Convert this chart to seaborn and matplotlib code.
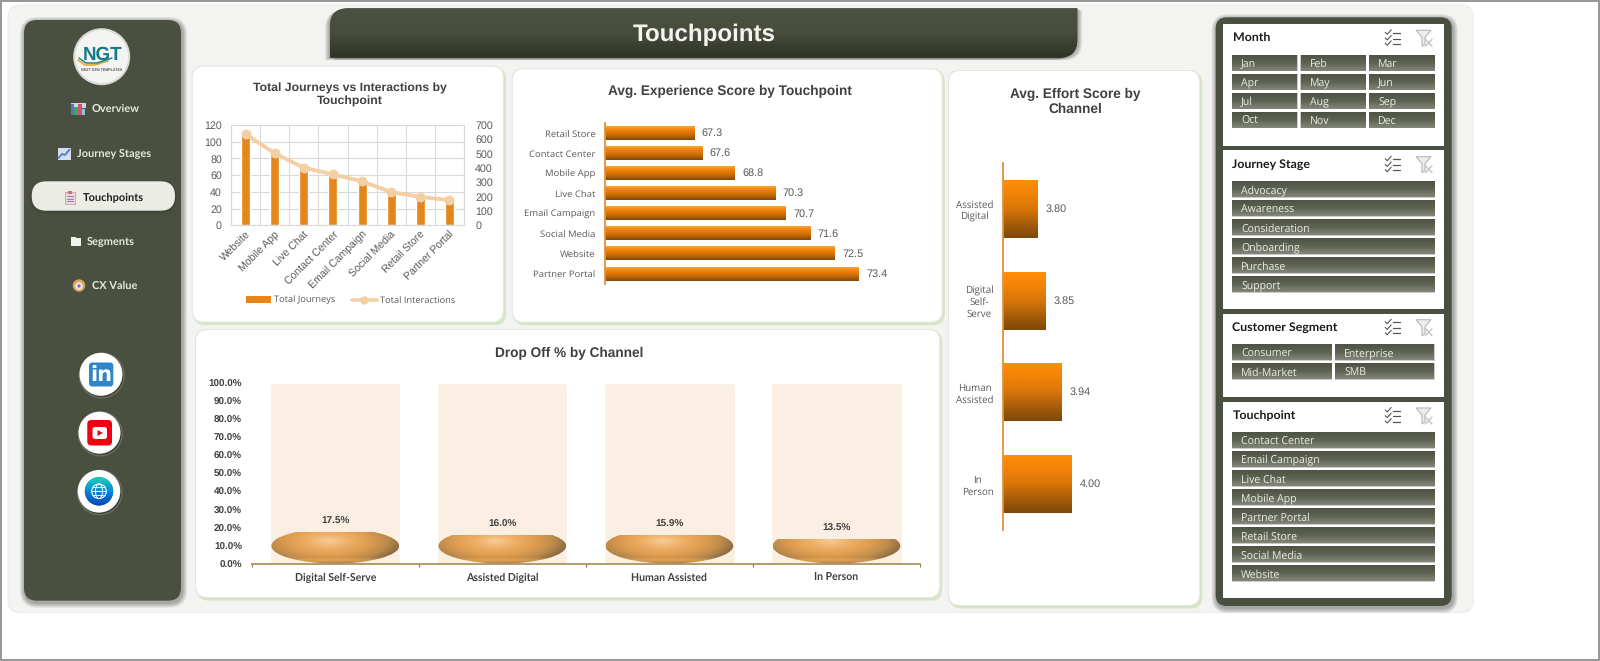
import numpy as np
import matplotlib
matplotlib.use("Agg")
import matplotlib.pyplot as plt
import seaborn as sns
from matplotlib.patches import FancyBboxPatch, Rectangle, Circle, Ellipse, Polygon, PathPatch, Patch
from matplotlib.path import Path
from matplotlib.lines import Line2D
from matplotlib.colors import LinearSegmentedColormap

# ---------- data ----------
touchpoints = ["Website", "Mobile App", "Live Chat", "Contact Center", "Email Campaign",
               "Social Media", "Retail Store", "Partner Portal"]
total_journeys = [109, 86, 69, 61, 52, 40, 33, 30]
total_interactions = [637, 502, 402, 356, 307, 233, 198, 177]

exp_touchpoints = ["Retail Store", "Contact Center", "Mobile App", "Live Chat", "Email Campaign",
                   "Social Media", "Website", "Partner Portal"]
exp_scores = [67.3, 67.6, 68.8, 70.3, 70.7, 71.6, 72.5, 73.4]

drop_channels = ["Digital Self-Serve", "Assisted Digital", "Human Assisted", "In Person"]
drop_pct = [17.5, 16.0, 15.9, 13.5]
drop_track = [100, 100, 100, 100]
pct_ticks = [0, 10, 20, 30, 40, 50, 60, 70, 80, 90, 100]

effort_channels = ["Assisted\nDigital", "Digital\nSelf-\nServe", "Human\nAssisted", "In\nPerson"]
effort_scores = [3.80, 3.85, 3.94, 4.00]

nav_items = ["Overview", "Journey Stages", "Touchpoints", "Segments", "CX Value"]
months = ["Jan", "Feb", "Mar", "Apr", "May", "Jun", "Jul", "Aug", "Sep", "Oct", "Nov", "Dec"]
stages = ["Advocacy", "Awareness", "Consideration", "Onboarding", "Purchase", "Support"]
segments = ["Consumer", "Enterprise", "Mid-Market", "SMB"]
slicer_touchpoints = ["Contact Center", "Email Campaign", "Live Chat", "Mobile App",
                      "Partner Portal", "Retail Store", "Social Media", "Website"]

# ---------- setup ----------
W, H = 1600, 661
sns.set_theme(style="white")
plt.rcParams["font.family"] = ["Liberation Sans", "DejaVu Sans"]
plt.rcParams["text.hinting"] = "none"
UI = "Open Sans"
UIB = "Lato"
SANS = "Liberation Sans"
OLIVE = "#4A5040"
GRAY = "#595959"
TITLE = "#404040"

fig = plt.figure(figsize=(W / 100, H / 100), dpi=100, facecolor="white")
bg = fig.add_axes([0, 0, 1, 1], zorder=0)
bg.set_xlim(0, W)
bg.set_ylim(H, 0)
bg.axis("off")
bg.set_autoscale_on(False)


def rbox(x0, y0, x1, y1, r, fc, ec="none", lw=0, z=1, alpha=None, ax=bg):
    p = FancyBboxPatch((x0 + r, y0 + r), x1 - x0 - 2 * r, y1 - y0 - 2 * r,
                       boxstyle=f"round,pad={r},rounding_size={r}", fc=fc, ec=ec, lw=lw,
                       zorder=z, alpha=alpha)
    ax.add_patch(p)
    return p


def shadow(x0, y0, x1, y1, r, dx=2, dy=3, color="#000000", spread=5, strength=0.05, z=1):
    for i in range(spread, 0, -1):
        rbox(x0 + dx - i, y0 + dy - i, x1 + dx + i, y1 + dy + i, r + i, color, z=z, alpha=strength)


def grad(ax, x0, y_bottom, x1, y_top, colors, z=2, clip=None):
    cmap = LinearSegmentedColormap.from_list("g", colors)
    arr = np.linspace(0, 1, 64)[:, None]
    im = ax.imshow(arr, cmap=cmap, vmin=0, vmax=1, extent=[x0, x1, y_bottom, y_top],
                   origin="upper", aspect="auto", zorder=z, interpolation="bilinear")
    if clip is not None:
        im.set_clip_path(clip)
    return im


def px_axes(x0, y0, x1, y1, z=2):
    a = fig.add_axes([x0 / W, 1 - y1 / H, (x1 - x0) / W, (y1 - y0) / H], zorder=z)
    a.patch.set_visible(False)
    return a


def card(x0, y0, x1, y1, r=11):
    rbox(x0 + 1, y0 + 1, x1 + 3, y1 + 3.5, r, "#D5E6C4", z=1.2)
    rbox(x0 - 1, y0 - 1, x1 + 1, y1 + 1, r, "#E4E6E0", z=1.3)
    rbox(x0, y0, x1, y1, r, "white", z=1.4)


# ---------- page ----------
rbox(8, 5, 1473, 612.5, 12, "#F3F3F1", ec="#ECECEA", lw=0.8, z=0.5)
bg.add_patch(Rectangle((0.7, 0.7), W - 1.4, H - 1.4, fc="none", ec="#8F8F8F", lw=1.3, zorder=0.6))

# ---------- title banner ----------
r = 18
bx0, by0, bx1, by1 = 330, 8.3, 1077.3, 57.7
verts = [(bx0, by1), (bx0, by0 + r), (bx0, by0), (bx0 + r, by0), (bx1, by0), (bx1, by1 - r),
         (bx1, by1), (bx1 - r, by1), (bx0, by1), (bx0, by1)]
codes = [Path.MOVETO, Path.LINETO, Path.CURVE3, Path.CURVE3, Path.LINETO, Path.LINETO,
         Path.CURVE3, Path.CURVE3, Path.LINETO, Path.CLOSEPOLY]
banner_path = Path(verts, codes)
for i in range(1, 6):
    bg.add_patch(PathPatch(Path(np.array(verts) + np.array([i * 1.0, 0.5 * i]), codes),
                           fc="#000000", ec="none", alpha=0.07, zorder=1))
    bg.add_patch(PathPatch(Path(np.array(verts) + np.array([-i * 1.0, 0.5 * i]), codes),
                           fc="#000000", ec="none", alpha=0.07, zorder=1))
bp = PathPatch(banner_path, fc=OLIVE, ec="none", zorder=1.5)
bg.add_patch(bp)
grad(bg, bx0, by1, bx1, by0, ["#4C5241", "#474C3C", "#2E3227"], z=1.6, clip=bp)
bg.text(704, 35, "Touchpoints", color="#F4F4F0", fontsize=17.4, fontweight="bold",
        family=SANS, ha="center", va="center", zorder=3)

# ---------- sidebar ----------
shadow(24, 20, 181, 600.7, 13, dx=1, dy=2, spread=5, strength=0.07)
rbox(24, 20, 181, 600.7, 13, OLIVE, z=1.5)
# logo
bg.add_patch(Circle((101.7, 56.7), 28.5, fc="#D9D9D6", ec="none", zorder=2))
logo = Circle((101.7, 56.7), 26.5, fc="#F4F4F2", ec="none", zorder=2.1)
bg.add_patch(logo)
bg.text(103, 55, "NGT", color="#137A8C", fontsize=13.5, fontweight="bold", family=SANS,
        ha="center", va="center", zorder=3)
bg.plot([78, 85, 95, 108], [60, 65, 65, 61], color="#E3A93A", lw=1.2, zorder=2.9)
bg.plot([79, 86, 97, 112], [58, 63, 63, 58], color="#137A8C", lw=1.0, zorder=2.9)
bg.text(102, 70, "NEXT GEN TEMPLATES", color="#555555", fontsize=2.6, fontweight="bold",
        family=SANS, ha="center", va="center", zorder=3)

# active pill
shadow(31.7, 181.3, 175, 210.7, 14.6, dx=0, dy=1, spread=2, strength=0.05, z=2)
rbox(31.7, 181.3, 175, 210.7, 14.6, "#ECECE6", z=2.1)

nav_y = [109, 154, 197.5, 241.5, 285.5]
nav_x = [91.7, 77, 83, 87, 92]
nav_ic = [78, 64, 70, 76, 79]
for label, y, x in zip(nav_items, nav_y, nav_x):
    active = label == "Touchpoints"
    bg.text(x, y, label, color="#1F1F1F" if active else "#E6E8DF", fontsize=7.9, fontweight="bold",
            family=UIB, ha="left", va="center", zorder=3)
# nav icons
ix = nav_ic[0]; iy = nav_y[0]
for dx, h, c in [(-5.5, 11, "#4F79B8"), (-1.7, 8, "#3FA66B"), (2, 11, "#D1526B"), (5.5, 6, "#8FC2E0")]:
    bg.add_patch(Rectangle((ix + dx - 1.9, iy + 6 - h), 3.7, h, fc=c, ec="none", zorder=3))
bg.add_patch(Rectangle((ix - 7.5, iy - 6), 15, 5, fc="#CBD6E6", ec="none", zorder=2.9))
ix = nav_ic[1]; iy = nav_y[1]
bg.add_patch(Rectangle((ix - 6.5, iy - 6), 13, 12, fc="#D7DCEE", ec="none", zorder=3))
bg.plot([ix - 5.5, ix - 2, ix + 1, ix + 5.5], [iy + 4, iy, iy + 1, iy - 4.5], color="#4D7FC9", lw=1.3, zorder=3.1)
ix = nav_ic[2]; iy = nav_y[2]
bg.add_patch(Rectangle((ix - 4.7, iy - 5.5), 9.4, 12, fc="#EAD7DA", ec="#B99BA0", lw=0.5, zorder=3))
bg.add_patch(Rectangle((ix - 2.2, iy - 7), 4.4, 3, fc="#C9737E", ec="none", zorder=3.1))
for d in (-1.5, 1, 3.5):
    bg.plot([ix - 3, ix + 3], [iy + d, iy + d], color="#8A7FB0", lw=0.7, zorder=3.1)
ix = nav_ic[3]; iy = nav_y[3]
bg.add_patch(Rectangle((ix - 5, iy - 3.5), 10, 7.5, fc="#F2F2EC", ec="none", zorder=3))
bg.add_patch(Rectangle((ix - 5, iy - 5), 5, 2, fc="#F2F2EC", ec="none", zorder=3))
ix = nav_ic[4]; iy = nav_y[4]
bg.add_patch(Circle((ix, iy), 6.2, fc="#D9A65A", ec="none", zorder=3))
bg.add_patch(Circle((ix, iy + 0.5), 3.9, fc="#E8E2EE", ec="none", zorder=3.1))
bg.add_patch(Circle((ix, iy + 0.5), 1.6, fc="#8C5FA8", ec="none", zorder=3.2))

# social buttons
for (cx, cy, rad) in [(101, 374.3, 21.5), (99.5, 432.7, 21), (99, 491.3, 21.3)]:
    bg.add_patch(Circle((cx + 0.8, cy + 1.2), rad + 0.8, fc="#000000", alpha=0.2, zorder=2))
    bg.add_patch(Circle((cx, cy), rad, fc="white", ec="none", zorder=2.1))
rbox(89, 362.5, 113.3, 386.5, 3, "#2F86C6", z=3)
bg.text(101.3, 375.3, "in", color="white", fontsize=15, fontweight="bold", family="DejaVu Sans",
        ha="center", va="center", zorder=3.1)
rbox(87.3, 420, 112, 445.5, 4, "#F00010", z=3)
rbox(92.5, 427, 107, 439, 2.5, "white", z=3.1)
bg.add_patch(Polygon([(97.5, 430), (97.5, 436), (103, 433)], fc="#D8101C", ec="none", zorder=3.2))
globe = Circle((99, 491.3), 14.2, fc="#1467C8", ec="none", zorder=3)
bg.add_patch(globe)
grad(bg, 84, 506, 114, 477, ["#13D3B8", "#0C86D0", "#0742B8"], z=3.05, clip=globe)
bg.add_patch(Circle((99, 491.3), 7.3, fc="none", ec="white", lw=0.8, zorder=3.2))
bg.add_patch(Ellipse((99, 491.3), 7, 14.6, fc="none", ec="white", lw=0.7, zorder=3.2))
bg.plot([91.7, 106.3], [491.3, 491.3], color="white", lw=0.7, zorder=3.2)
bg.plot([93, 105], [487.4, 487.4], color="white", lw=0.6, zorder=3.2)
bg.plot([93, 105], [495.2, 495.2], color="white", lw=0.6, zorder=3.2)

# ---------- slicer panel ----------
shadow(1215.7, 17.3, 1451.7, 606, 11, dx=1, dy=2, spread=5, strength=0.07)
rbox(1215.7, 17.3, 1451.7, 606, 11, OLIVE, z=1.5)
BTN = ["#4E5344", "#5E6354", "#83877A"]


def slicer_icons(y):
    x = 1392.7
    for k, d in enumerate((-5.5, 0.2, 5.5)):
        yy = y + d
        bg.plot([x - 7.5, x - 5.5, x - 1.5], [yy - 0.5, yy + 1.5, yy - 3], color="#555555", lw=0.8, zorder=3)
        bg.plot([x, x + 7.5], [yy, yy], color="#555555", lw=0.9, zorder=3)
    xf = 1424
    bg.add_patch(Polygon([(xf - 8, y - 8), (xf + 7, y - 8), (xf + 1, y - 1), (xf + 1, y + 6),
                          (xf - 2, y + 8), (xf - 2, y - 1)], fc="#EDEDED", ec="#BDBDBD", lw=0.9, zorder=3))
    bg.plot([xf + 1.5, xf + 8], [y + 1, y + 8], color="#C4C4C4", lw=1, zorder=3.1)
    bg.plot([xf + 8, xf + 1.5], [y + 1, y + 8], color="#C4C4C4", lw=1, zorder=3.1)


def button(x0, y0, x1, label):
    y1 = y0 + 15.7
    bg.add_patch(Rectangle((x0 - 0.3, y0 - 0.3), x1 - x0 + 0.6, 16.6, fc="#C9CBC4", ec="none", zorder=2.4))
    grad(bg, x0, y1, x1, y0, BTN, z=2.5)
    bg.text(x0 + 9, y0 + 9.4, label, color="#ECEEE6", fontsize=7.6, family=UI, ha="left",
            va="center", zorder=3)


def pane(y0, y1, title, title_y):
    bg.add_patch(Rectangle((1223.3, y0), 221, y1 - y0, fc="white", ec="none", zorder=2))
    bg.text(1232.5, title_y, title, color="#1A1A1A", fontsize=8.9, fontweight="bold", family=UIB,
            ha="left", va="center", zorder=3)
    slicer_icons(title_y)


pane(24.3, 145.7, "Month", 38.3)
pane(150.3, 309.3, "Journey Stage", 164.7)
pane(314, 397.3, "Customer Segment", 327.7)
pane(402.3, 598.3, "Touchpoint", 416)

cols3 = [(1232.3, 1297.3), (1300.7, 1365.3), (1369, 1434.3)]
for i, m in enumerate(months):
    c = cols3[i % 3]
    button(c[0], 55 + 19 * (i // 3), c[1], m)
for i, s in enumerate(stages):
    button(1232.3, 181.7 + 19 * i, 1435, s)
cols2 = [(1232.3, 1331.7), (1335.3, 1434.3)]
for i, s in enumerate(segments):
    c = cols2[i % 2]
    button(c[0], 344.3 + 19 * (i // 2), c[1], s)
for i, s in enumerate(slicer_touchpoints):
    button(1232.3, 432.3 + 19 * i, 1435, s)

# ---------- cards ----------
card(192.7, 66.7, 503, 321.5)
card(512.7, 69.3, 941.7, 321.7)
card(196, 330, 939.3, 597)
card(949, 71, 1199.3, 605)

title_kw = dict(color=TITLE, fontweight="bold", family=SANS, ha="center", va="center", zorder=3)
bg.text(350, 95, "Total Journeys vs Interactions by\nTouchpoint", fontsize=8.8, linespacing=1.3, **title_kw)
bg.text(730, 91.5, "Avg. Experience Score by Touchpoint", fontsize=9.8, **title_kw)
bg.text(569, 353.5, "Drop Off % by Channel", fontsize=9.8, **title_kw)
bg.text(1075.5, 101.5, "Avg. Effort Score by\nChannel", fontsize=9.8, linespacing=1.2, **title_kw)

# ---------- chart 1: journeys vs interactions ----------
ax1 = px_axes(231, 125, 464, 225.4)
sns.barplot(x=touchpoints, y=total_journeys, color="#E6851A", saturation=1, width=0.31, ax=ax1, zorder=2)
ax1.set_xlim(-0.5, len(touchpoints) - 0.5)
ax1.set_ylim(0, 120)
ax1.set_yticks(range(0, 121, 20))
ax1.set_xticks(np.arange(len(touchpoints)))
ax1.set_xticklabels(touchpoints, rotation=45, ha="right", rotation_mode="anchor", family=SANS,
                    fontsize=7.6, color=GRAY)
ax1.set_xticks(np.arange(-0.5, len(touchpoints)), minor=True)
ax1.grid(True, axis="y", which="major", color="#D9D9D9", lw=0.8, zorder=0)
ax1.grid(True, axis="x", which="minor", color="#D9D9D9", lw=0.8, zorder=0)
ax1.grid(False, axis="x", which="major")
ax1.set_axisbelow(True)
ax1.tick_params(axis="x", which="both", length=0, pad=3)
ax1.tick_params(axis="y", length=0, pad=6.5, labelsize=7.7, labelcolor=GRAY)
for s in ax1.spines.values():
    s.set_color("#D9D9D9")
    s.set_linewidth(0.8)
ax1.set_xlabel("")
ax1.set_ylabel("")

ax1b = ax1.twinx()
ax1b.patch.set_visible(False)
sns.lineplot(x=np.arange(len(touchpoints)), y=total_interactions, color="#F4CFA5", lw=2.8, marker="o",
             markersize=6.4, markeredgecolor="#F4CFA5", ax=ax1b, sort=False, errorbar=None, zorder=3)
ax1b.set_ylim(0, 700)
ax1b.set_yticks(range(0, 701, 100))
ax1b.tick_params(axis="y", length=0, pad=8, labelsize=7.7, labelcolor=GRAY)
ax1b.set_ylabel("")
ax1b.grid(False)
for s in ax1b.spines.values():
    s.set_visible(False)
handles = [Patch(fc="#E6851A", ec="none"),
           Line2D([], [], color="#F4CFA5", lw=2.6, marker="o", markersize=5)]
leg = ax1b.legend(handles, ["Total Journeys", "Total Interactions"], loc="center",
                  bbox_to_anchor=(351 / W, 1 - 300.5 / H), bbox_transform=fig.transFigure, ncol=2,
                  frameon=False, handlelength=2.6, columnspacing=1.8, handletextpad=0.4,
                  prop={"family": UI, "size": 6.7})
for t in leg.get_texts():
    t.set_color(GRAY)

# ---------- chart 2: experience score ----------
ORANGE_H = ["#F9A540", "#F08208", "#DD7606", "#B4620A", "#824808"]
ax2 = px_axes(605, 123, 902, 284)
sns.barplot(x=exp_scores, y=exp_touchpoints, orient="h", color="#E07A08", saturation=1, width=0.66, ax=ax2)
ax2.set_xlim(64, 75)
ax2.set_ylim(len(exp_scores) - 0.5, -0.5)
ax2.set_autoscale_on(False)
bars2 = ax2.containers[0]
for p in bars2:
    b = p.get_bbox()
    grad(ax2, ax2.get_xlim()[0], b.y1, b.x1, b.y0, ORANGE_H, z=2.5)
ax2.bar_label(bars2, fmt="%.1f", padding=5.5, fontsize=7.8, color=GRAY, family=SANS)
ax2.set_xticks([])
ax2.tick_params(axis="y", length=0, pad=7)
for lb in ax2.get_yticklabels():
    lb.set(family=UI, fontsize=6.8, color=GRAY)
sns.despine(ax=ax2, top=True, right=True, bottom=True)
ax2.spines["left"].set_color("#E09040")
ax2.spines["left"].set_linewidth(1.3)
ax2.set_xlabel("")
ax2.set_ylabel("")

# ---------- chart 3: drop off ----------
ax3 = px_axes(251.7, 383.3, 920, 564)
sns.barplot(x=drop_channels, y=drop_track, color="#FBEFE3", saturation=1, width=0.78, ax=ax3)
sns.barplot(x=drop_channels, y=drop_pct, color="#E8A458", saturation=1, width=0.78, ax=ax3)
ax3.set_xlim(-0.5, len(drop_channels) - 0.5)
ax3.set_ylim(0, 100)
ax3.set_autoscale_on(False)
bowl_cmap = LinearSegmentedColormap.from_list(
    "bowl", [(0, "#F7CC96"), (0.28, "#EDAE66"), (0.55, "#DE9C50"), (0.78, "#BC8A4C"), (1, "#84663E")])
bars3 = ax3.containers[1]
for p in bars3:
    b = p.get_bbox()
    p.set_visible(False)
    cx, w = (b.x0 + b.x1) / 2, (b.x1 - b.x0) * 0.98
    bowl = Ellipse((cx, 10), w, 19.4, fc="none", ec="none", zorder=2.4)
    ax3.add_patch(bowl)
    u, v = np.meshgrid(np.linspace(-1, 1, 160), np.linspace((b.y1 - 10) / 9.7, -1.03, 90))
    d = np.sqrt(((u + 0.1) / 1.18) ** 2 + ((v - 0.28) / 1.5) ** 2)
    band = np.exp(-((v + 0.82) / 0.1) ** 2) * 0.25
    im = ax3.imshow(np.clip(d - band, 0, 1), cmap=bowl_cmap, vmin=0, vmax=1,
                    extent=[cx - w / 2, cx + w / 2, 0.2, b.y1], origin="upper", aspect="auto",
                    zorder=2.5, interpolation="bilinear")
    im.set_clip_path(bowl)
ax3.bar_label(bars3, fmt="%.1f%%", padding=4.5, fontsize=7.2, color=TITLE, fontweight="bold", family=SANS)
ax3.set_yticks(pct_ticks)
ax3.set_yticklabels([f"{t:.1f}%" for t in pct_ticks], family=SANS, fontsize=7.1, fontweight="bold", color=TITLE)
ax3.tick_params(axis="y", length=0, pad=7)
ax3.set_xticks(np.arange(len(drop_channels)))
ax3.set_xticklabels(drop_channels, family=UIB, fontsize=7.6, fontweight="bold", color=TITLE)
ax3.set_xticks(np.arange(-0.5, len(drop_channels)), minor=True)
ax3.tick_params(axis="x", which="major", length=0, pad=6.5)
ax3.tick_params(axis="x", which="minor", length=2.5, width=0.8, color="#8C7A50", bottom=True)
sns.despine(ax=ax3, top=True, right=True, left=True)
ax3.spines["bottom"].set_color("#A8945F")
ax3.spines["bottom"].set_linewidth(1.3)
ax3.set_xlabel("")
ax3.set_ylabel("")

# ---------- chart 4: effort score ----------
ORANGE_V = ["#FF8E08", "#F08208", "#D87608", "#A85E0A", "#7E4808"]
ax4 = px_axes(1003.3, 163, 1180, 530)
sns.barplot(x=effort_scores, y=effort_channels, orient="h", color="#E07A08", saturation=1, width=0.63, ax=ax4)
ax4.set_xlim(3.6, 3.6 + 176.7 / 171)
ax4.set_ylim(len(effort_scores) - 0.5, -0.5)
ax4.set_autoscale_on(False)
bars4 = ax4.containers[0]
for p in bars4:
    b = p.get_bbox()
    grad(ax4, ax4.get_xlim()[0], b.y1, b.x1, b.y0, ORANGE_V, z=2.5)
ax4.bar_label(bars4, fmt="%.2f", padding=5.5, fontsize=7.8, color=GRAY, family=SANS)
ax4.set_xticks([])
ax4.tick_params(axis="y", length=0, pad=7)
for lb in ax4.get_yticklabels():
    lb.set(family=UI, fontsize=7, color=GRAY, ha="right", multialignment="center")
sns.despine(ax=ax4, top=True, right=True, bottom=True)
ax4.spines["left"].set_color("#E09040")
ax4.spines["left"].set_linewidth(1.3)
ax4.set_xlabel("")
ax4.set_ylabel("")

fig.savefig("out.png", dpi=100, facecolor="white")
